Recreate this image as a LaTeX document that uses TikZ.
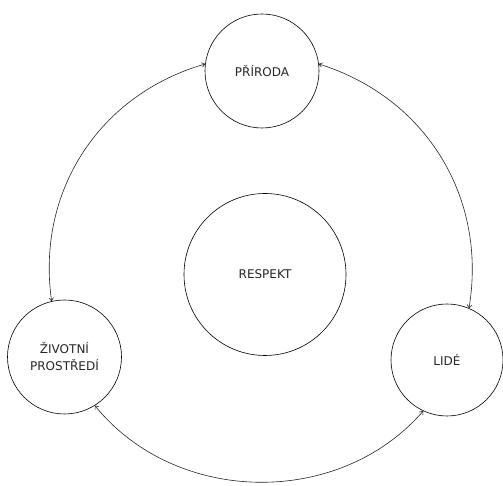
\documentclass[tikz,border=0pt]{standalone}
\usepackage{fontspec}
\setmainfont{DejaVu Sans}
\usetikzlibrary{arrows.meta}
\begin{document}
\begin{tikzpicture}[x=1pt,y=1pt,
  bubble/.style={draw=black,line width=0.6pt,circle,inner sep=0pt,align=center,font=\fontsize{12}{17}\selectfont,text=black!85},
  link/.style={draw=black!85,line width=0.6pt,{To[length=3.5pt,width=5pt]}-{To[length=3.5pt,width=5pt]}}]
\clip (0,0) rectangle (503,486);
\node[bubble,minimum size=114pt] (p) at (262,415) {PŘÍRODA};
\node[bubble,minimum size=114pt] (z) at (64.5,129) {ŽIVOTNÍ\\PROSTŘEDÍ};
\node[bubble,minimum size=112pt] (l) at (447,126) {LIDÉ};
\node[bubble,minimum size=162pt] (r) at (265,211.5) {RESPEKT};
\draw[link] (p.173) to[bend right=41] (z.103);
\draw[link] (p.7) to[bend left=41] (l.67);
\draw[link] (z.-58) to[bend right=50] (l.-115);
\end{tikzpicture}
\end{document}
